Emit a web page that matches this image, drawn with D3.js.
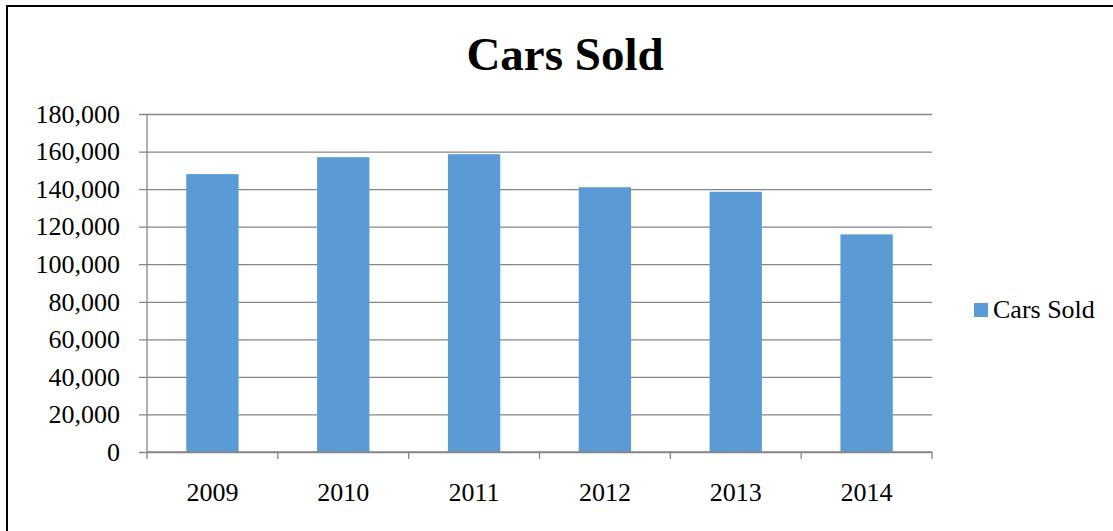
<!DOCTYPE html>
<html>
<head>
<meta charset="utf-8">
<script src="https://cdn.jsdelivr.net/npm/d3@7"></script>
<style>
  body { margin: 0; background: #fff; }
</style>
</head>
<body>
<div id="chart"></div>
<script>
"use strict"

// data
let years = ["2009", "2010", "2011", "2012", "2013", "2014"];
let carsSold = [148000, 157000, 158600, 141000, 138600, 115900];
let yTicks = [0, 20000, 40000, 60000, 80000, 100000, 120000, 140000, 160000, 180000];
let seriesName = "Cars Sold";

let width = 1113;
let height = 531;
let plotLeft = 147, plotRight = 932, plotTop = 114, plotBottom = 452;
let barColor = "#5b9bd5";
let gridColor = "#868686";
let serif = "'Liberation Serif', 'Times New Roman', serif";

let svg = d3.select("#chart").append("svg")
            .attr("width", width)
            .attr("height", height)
            .style("font-family", serif);

// outer frame
svg.append("rect")
   .attr("x", 7)
   .attr("y", 6)
   .attr("width", width + 20)
   .attr("height", height + 20)
   .attr("fill", "none")
   .attr("stroke", "#000")
   .attr("stroke-width", 2);

let x = d3.scaleBand()
          .domain(years)
          .range([plotLeft, plotRight])
          .paddingInner(0.6)
          .paddingOuter(0.3);

let y = d3.scaleLinear()
          .domain([0, 180000])
          .range([plotBottom, plotTop]);

// gridlines + y axis
let yAxis = d3.axisLeft(y)
              .tickValues(yTicks)
              .tickSize(-(plotRight - plotLeft))
              .tickPadding(27)
              .tickFormat(d3.format(","));

let yg = svg.append("g")
            .attr("transform", "translate(" + plotLeft + ",0)")
            .call(yAxis)
            .attr("font-family", serif)
            .attr("font-size", 26);
yg.select(".domain").remove();
yg.selectAll(".tick line")
  .attr("x1", -8)
  .attr("stroke", gridColor)
  .attr("stroke-width", 1.3);
yg.selectAll(".tick text")
  .attr("fill", "#000");

// vertical axis line
svg.append("line")
   .attr("x1", plotLeft).attr("x2", plotLeft)
   .attr("y1", plotTop).attr("y2", plotBottom)
   .attr("stroke", gridColor)
   .attr("stroke-width", 1.3);

// bars
svg.selectAll(".bar")
   .data(years)
   .enter().append("rect")
   .attr("class", "bar")
   .attr("x", d => x(d))
   .attr("width", x.bandwidth())
   .attr("y", (d, i) => y(carsSold[i]))
   .attr("height", (d, i) => y(0) - y(carsSold[i]))
   .attr("fill", barColor);

// x axis with ticks at category boundaries
let step = (plotRight - plotLeft) / years.length;
let xg = svg.append("g");
xg.append("line")
  .attr("x1", plotLeft).attr("x2", plotRight)
  .attr("y1", plotBottom).attr("y2", plotBottom)
  .attr("stroke", gridColor)
  .attr("stroke-width", 1.3);
xg.selectAll(".xtick")
  .data(d3.range(years.length + 1))
  .enter().append("line")
  .attr("x1", i => plotLeft + i * step)
  .attr("x2", i => plotLeft + i * step)
  .attr("y1", plotBottom)
  .attr("y2", plotBottom + 7)
  .attr("stroke", gridColor)
  .attr("stroke-width", 1.3);
xg.selectAll(".xlabel")
  .data(years)
  .enter().append("text")
  .attr("x", d => x(d) + x.bandwidth() / 2)
  .attr("y", 501)
  .attr("text-anchor", "middle")
  .attr("font-family", serif)
  .attr("font-size", 26)
  .text(d => d);

// title
svg.append("text")
   .attr("x", 565)
   .attr("y", 70)
   .attr("text-anchor", "middle")
   .attr("font-family", serif)
   .attr("font-size", 47)
   .attr("font-weight", "bold")
   .text(seriesName);

// legend
svg.append("rect")
   .attr("x", 974)
   .attr("y", 303)
   .attr("width", 14)
   .attr("height", 14)
   .attr("fill", barColor);
svg.append("text")
   .attr("x", 993)
   .attr("y", 318)
   .attr("font-family", serif)
   .attr("font-size", 26)
   .text(seriesName);
</script>
</body>
</html>
